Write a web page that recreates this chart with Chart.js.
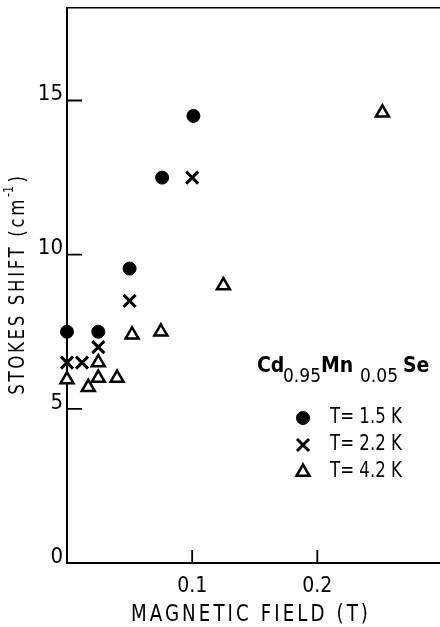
<!DOCTYPE html>
<html>
<head>
<meta charset="utf-8">
<script src="https://cdn.jsdelivr.net/npm/chart.js@4/dist/chart.umd.min.js"></script>
<style>
  html, body { margin: 0; padding: 0; background: #fff; }
  canvas { display: block; }
</style>
</head>
<body>
<canvas id="c" width="440" height="627"></canvas>
<script>
// ---- data ----
const fieldT15 = [0, 0.025, 0.05, 0.076, 0.101];
const shiftT15 = [7.5, 7.5, 9.55, 12.5, 14.5];

const fieldT22 = [0, 0.012, 0.025, 0.05, 0.1];
const shiftT22 = [6.5, 6.5, 7.0, 8.5, 12.5];

const fieldT42 = [0, 0.017, 0.025, 0.025, 0.04, 0.052, 0.075, 0.125, 0.252];
const shiftT42 = [5.95, 5.7, 6.0, 6.5, 6.0, 7.4, 7.5, 9.0, 14.6];

const seriesLabels = ['T= 1.5 K', 'T= 2.2 K', 'T= 4.2 K'];
const xTickValues = [0.1, 0.2];
const yTickValues = [0, 5, 10, 15];
const xTitle = 'MAGNETIC FIELD (T)';
const yTitleMain = 'STOKES SHIFT (cm';
const yTitleSup = '-1';
const yTitleEnd = ')';
const legendTitleParts = ['Cd', '0.95', 'Mn', '0.05', 'Se'];

const FONT = "'DejaVu Sans Condensed', 'Liberation Sans Narrow', 'DejaVu Sans', sans-serif";

function pts(xs, ys) { return xs.map((x, i) => ({ x: x, y: ys[i] })); }

const styles = [
  { pointStyle: 'circle', radius: 6.5, borderWidth: 1, fill: '#000' },
  { pointStyle: 'crossRot', radius: 8.5, borderWidth: 3, fill: '#000' },
  { pointStyle: 'triangle', radius: 7.5, borderWidth: 2.5, fill: '#fff' }
];

const datasets = [
  { label: seriesLabels[0], data: pts(fieldT15, shiftT15) },
  { label: seriesLabels[1], data: pts(fieldT22, shiftT22) },
  { label: seriesLabels[2], data: pts(fieldT42, shiftT42) }
].map((d, i) => Object.assign(d, {
  pointStyle: styles[i].pointStyle,
  pointRadius: styles[i].radius,
  pointBorderWidth: styles[i].borderWidth,
  pointBackgroundColor: styles[i].fill,
  pointBorderColor: '#000',
  showLine: false,
  clip: false
}));

// draw text squeezed horizontally (narrow typeface look)
function narrowText(ctx, text, x, y, sx) {
  ctx.save();
  ctx.translate(x, y);
  ctx.scale(sx, 1);
  ctx.fillText(text, 0, 0);
  ctx.restore();
}

function noPad(s) { s.paddingTop = 0; s.paddingBottom = 0; s.paddingLeft = 0; s.paddingRight = 0; }

const decorPlugin = {
  id: 'decor',
  afterDraw(chart) {
    const ctx = chart.ctx;
    const xs = chart.scales.x, ys = chart.scales.y;
    ctx.save();
    ctx.strokeStyle = '#000';
    ctx.fillStyle = '#000';
    // inward tick marks
    ctx.lineWidth = 1.8;
    ctx.beginPath();
    yTickValues.forEach(v => {
      if (v === 0) return;
      const py = ys.getPixelForValue(v);
      ctx.moveTo(xs.left, py); ctx.lineTo(xs.left + 15, py);
    });
    xTickValues.forEach(v => {
      const px = xs.getPixelForValue(v);
      ctx.moveTo(px, ys.bottom); ctx.lineTo(px, ys.bottom - 13);
    });
    ctx.stroke();

    // x axis title
    ctx.font = '23px ' + FONT;
    ctx.letterSpacing = '3.5px';
    ctx.textAlign = 'center';
    ctx.textBaseline = 'middle';
    narrowText(ctx, xTitle, 251, 615, 0.88);

    // y axis title (rotated)
    ctx.save();
    ctx.translate(19, 284);
    ctx.rotate(-Math.PI / 2);
    ctx.scale(0.88, 1);
    ctx.textAlign = 'left';
    ctx.textBaseline = 'middle';
    const big = '21px ' + FONT, small = '14px ' + FONT;
    ctx.font = big; ctx.letterSpacing = '3px';
    const w1 = ctx.measureText(yTitleMain).width;
    ctx.font = small; ctx.letterSpacing = '0px';
    const w2 = ctx.measureText(yTitleSup).width;
    ctx.font = big; ctx.letterSpacing = '3px';
    const w3 = ctx.measureText(yTitleEnd).width;
    const total = w1 + w2 + 4 + w3;
    let tx = -total / 2;
    ctx.fillText(yTitleMain, tx, 0);
    tx += w1;
    ctx.font = small; ctx.letterSpacing = '0px';
    ctx.fillText(yTitleSup, tx, -10);
    tx += w2 + 4;
    ctx.font = big; ctx.letterSpacing = '3px';
    ctx.fillText(yTitleEnd, tx, 0);
    ctx.restore();

    // legend title: Cd0.95Mn0.05Se
    ctx.letterSpacing = '0px';
    ctx.textAlign = 'left';
    ctx.textBaseline = 'alphabetic';
    const partX = [257, 283, 321, 360, 403];
    const partFont = ['bold 21px ', '19px ', 'bold 21px ', '19px ', 'bold 21px '];
    const partDy = [0, 10, 0, 10, 0];
    legendTitleParts.forEach((p, i) => {
      ctx.font = partFont[i] + FONT;
      ctx.fillText(p, partX[i], 372 + partDy[i]);
    });

    // legend entries
    const rowY = [418, 445, 472];
    ctx.font = '21px ' + FONT;
    ctx.textBaseline = 'middle';
    styles.forEach((s, i) => {
      ctx.fillStyle = s.fill;
      ctx.strokeStyle = '#000';
      ctx.lineWidth = s.borderWidth;
      Chart.helpers.drawPoint(ctx, { pointStyle: s.pointStyle, radius: s.radius, rotation: 0, borderWidth: s.borderWidth }, 303, rowY[i]);
      ctx.fillStyle = '#000';
      narrowText(ctx, seriesLabels[i], 330, rowY[i], 0.88);
    });
    ctx.restore();
  }
};

new Chart(document.getElementById('c'), {
  type: 'scatter',
  data: { datasets: datasets },
  options: {
    responsive: false,
    devicePixelRatio: 1,
    animation: false,
    layout: { padding: 0, autoPadding: false },
    plugins: { legend: { display: false }, tooltip: { enabled: false } },
    scales: {
      x: {
        type: 'linear', position: 'bottom', min: 0, max: 0.298,
        grid: { display: false, drawTicks: false },
        border: { display: true, color: '#000', width: 2 },
        afterBuildTicks: s => { s.ticks = xTickValues.map(v => ({ value: v })); },
        afterFit: s => { s.height = 64; noPad(s); },
        ticks: { color: '#000', padding: 11, font: { size: 21, family: FONT }, callback: v => v.toFixed(1) }
      },
      x2: {
        type: 'linear', position: 'top', min: 0, max: 0.298,
        grid: { display: false, drawTicks: false },
        border: { display: true, color: '#000', width: 1.5 },
        ticks: { display: false },
        afterFit: s => { s.height = 8; noPad(s); }
      },
      y: {
        type: 'linear', position: 'left', min: 0, max: 18,
        grid: { display: false, drawTicks: false },
        border: { display: true, color: '#000', width: 2 },
        afterBuildTicks: s => { s.ticks = yTickValues.map(v => ({ value: v })); },
        afterFit: s => { s.width = 67; noPad(s); },
        ticks: { color: '#000', padding: 4, labelOffset: -6, font: { size: 22, family: FONT }, callback: v => String(v) }
      }
    }
  },
  plugins: [decorPlugin]
});
</script>
</body>
</html>
